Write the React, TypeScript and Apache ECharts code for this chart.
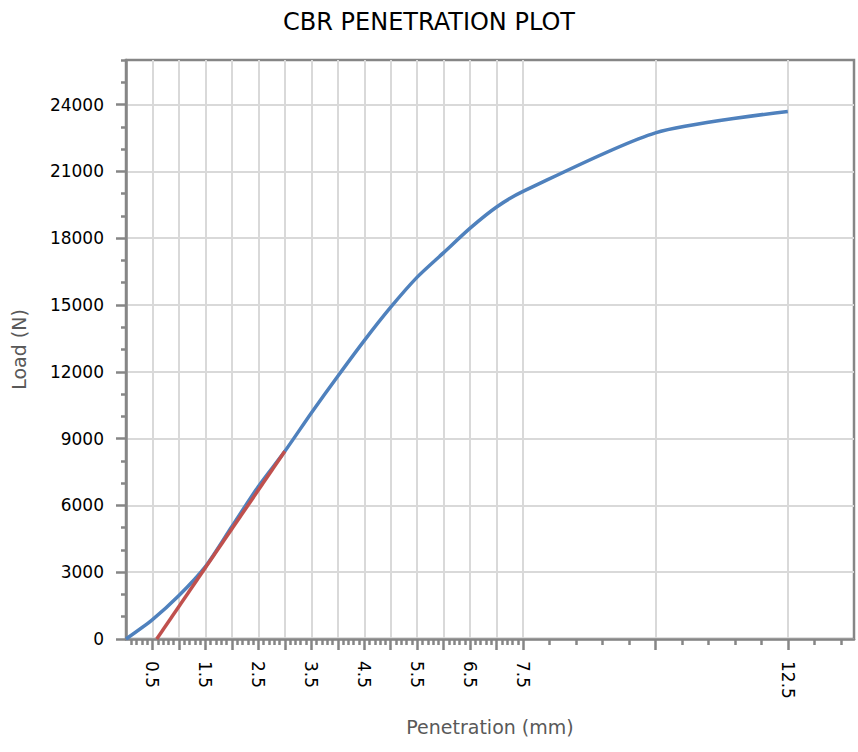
import React, { useEffect, useRef } from "react";
import * as echarts from "echarts";

const penetration = [0, 0.5, 1.0, 1.5, 2.0, 2.5, 3.0, 3.5, 4.0, 4.5, 5.0, 5.5, 6.0, 6.5, 7.0, 7.5, 10.0, 12.5];
const load = [0, 870, 1950, 3250, 5050, 6850, 8430, 10150, 11800, 13400, 14900, 16250, 17350, 18450, 19400, 20100, 22730, 23690];

const tangentX = [0.58, 3.0];
const tangentY = [0, 8430];

const xMajorTicks = [0.5, 1.0, 1.5, 2.0, 2.5, 3.0, 3.5, 4.0, 4.5, 5.0, 5.5, 6.0, 6.5, 7.0, 7.5, 10.0, 12.5];
const xTickLabels = [0.5, 1.5, 2.5, 3.5, 4.5, 5.5, 6.5, 7.5, 12.5];
const yMajorTicks = [0, 3000, 6000, 9000, 12000, 15000, 18000, 21000, 24000];

const xMinorTicks: number[] = [];
for (let k = 1; k < 75; k++) if (k % 5 !== 0) xMinorTicks.push(k / 10);
for (let k = 16; k <= 27; k++) if (k % 5 !== 0) xMinorTicks.push(k / 2);
const yMinorTicks: number[] = [];
for (let v = 1000; v <= 26000; v += 1000) if (v % 3000 !== 0) yMinorTicks.push(v);

const FONT = "DejaVu Sans";
const AXIS = "#868686";
const GRIDC = "#D9D9D9";

export default function App() {
  const ref = useRef<HTMLDivElement>(null);
  useEffect(() => {
    if (!ref.current) return;
    const chart = echarts.init(ref.current, null, { renderer: "svg" });
    chart.setOption({
      animation: false,
      backgroundColor: "#ffffff",
      textStyle: { fontFamily: FONT },
      title: {
        text: "CBR PENETRATION PLOT",
        left: "center",
        top: 5,
        textStyle: { fontFamily: FONT, fontSize: 24, fontWeight: "normal", color: "#000000" },
      },
      grid: {
        left: 126,
        right: 4,
        top: 60,
        bottom: 113,
        show: true,
        borderColor: AXIS,
        borderWidth: 2.5,
        backgroundColor: "transparent",
      },
      xAxis: [
        {
          type: "value",
          min: 0,
          max: 13.75,
          name: "Penetration (mm)",
          nameLocation: "middle",
          nameGap: 78,
          nameTextStyle: { fontFamily: FONT, fontSize: 19, color: "#595959" },
          axisLine: { show: true, lineStyle: { color: AXIS, width: 2.5 } },
          axisTick: { show: true, customValues: xMajorTicks, length: 11, lineStyle: { color: AXIS, width: 2.5 } },
          axisLabel: {
            customValues: xTickLabels,
            rotate: -90,
            fontFamily: FONT,
            fontSize: 17,
            color: "#000000",
            margin: 22,
          },
          splitLine: { show: true, lineStyle: { color: GRIDC, width: 2 } },
        },
        {
          type: "value",
          min: 0,
          max: 13.75,
          position: "bottom",
          axisLine: { show: false },
          axisTick: { show: true, customValues: xMinorTicks, length: 6, lineStyle: { color: AXIS, width: 2.5 } },
          axisLabel: { show: false },
          splitLine: { show: false },
        },
      ],
      yAxis: [
        {
          type: "value",
          min: 0,
          max: 26000,
          name: "Load (N)",
          nameLocation: "middle",
          nameGap: 98,
          nameTextStyle: { fontFamily: FONT, fontSize: 19, color: "#595959" },
          axisLine: { show: true, lineStyle: { color: AXIS, width: 2.5 } },
          axisTick: { show: true, customValues: yMajorTicks, length: 10, lineStyle: { color: AXIS, width: 2.5 } },
          axisLabel: {
            customValues: yMajorTicks,
            fontFamily: FONT,
            fontSize: 17,
            color: "#000000",
            margin: 22,
            formatter: (v: number) => String(v),
          },
          splitLine: { show: true, lineStyle: { color: GRIDC, width: 2 } },
        },
        {
          type: "value",
          min: 0,
          max: 26000,
          position: "left",
          axisLine: { show: false },
          axisTick: { show: true, customValues: yMinorTicks, length: 5, lineStyle: { color: AXIS, width: 2.5 } },
          axisLabel: { show: false },
          splitLine: { show: false },
        },
      ],
      series: [
        {
          type: "line",
          name: "Load",
          xAxisIndex: 0,
          yAxisIndex: 0,
          data: penetration.map((x, i) => [x, load[i]]),
          showSymbol: false,
          smooth: 0.25,
          lineStyle: { color: "#4F81BD", width: 3.5 },
          z: 2,
        },
        {
          type: "line",
          name: "Tangent",
          xAxisIndex: 0,
          yAxisIndex: 0,
          data: tangentX.map((x, i) => [x, tangentY[i]]),
          showSymbol: false,
          lineStyle: { color: "#C0504D", width: 3.5 },
          z: 3,
        },
      ],
    });
    return () => chart.dispose();
  }, []);
  return (
    <div
      ref={ref}
      style={{ position: "fixed", left: 0, top: 0, width: 858, height: 752, background: "#fff" }}
    />
  );
}
